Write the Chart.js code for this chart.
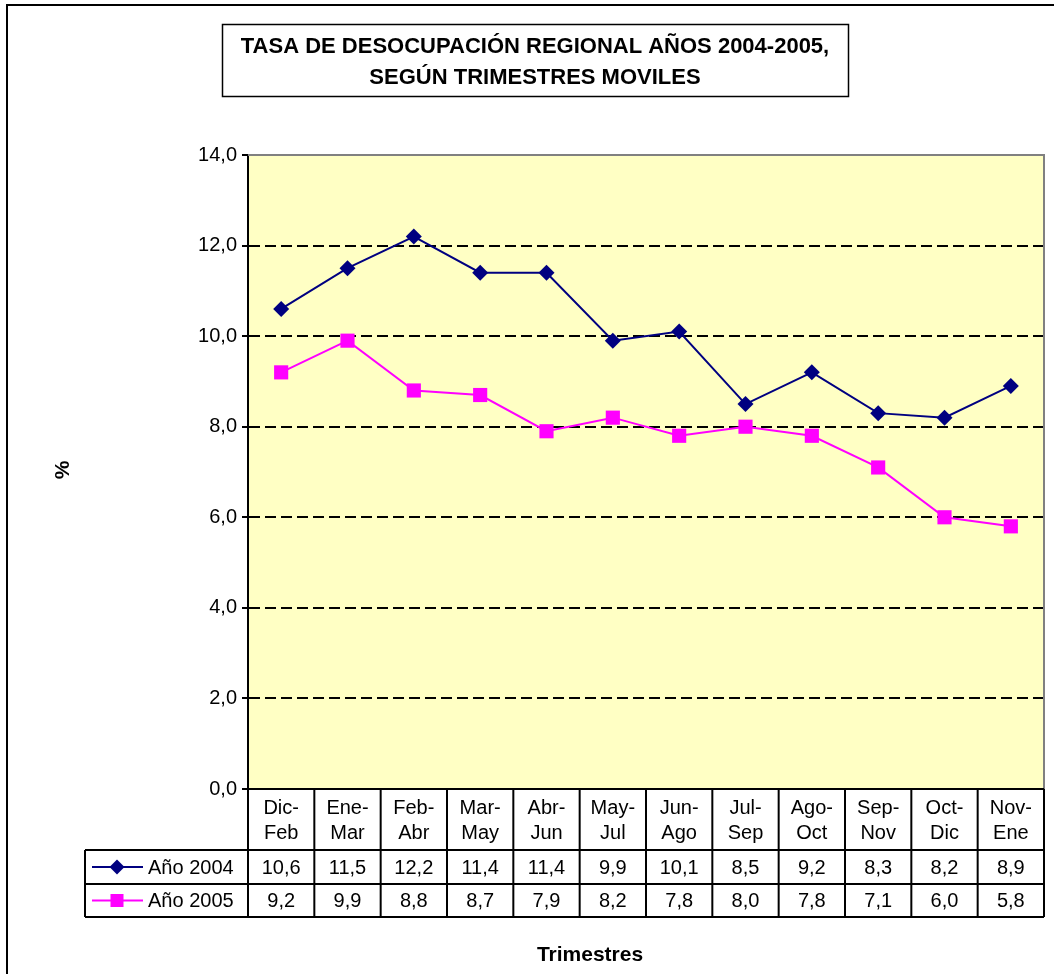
<!DOCTYPE html>
<html>
<head>
<meta charset="utf-8">
<script src="https://cdn.jsdelivr.net/npm/chart.js@4/dist/chart.umd.min.js"></script>
<style>
  html, body { margin: 0; padding: 0; background: #fff; }
  #wrap { width: 1054px; height: 974px; }
</style>
</head>
<body>
<div id="wrap"><canvas id="c" width="1054" height="974"></canvas></div>
<script>
// data
const trimestres = [['Dic-','Feb'],['Ene-','Mar'],['Feb-','Abr'],['Mar-','May'],['Abr-','Jun'],['May-','Jul'],
                    ['Jun-','Ago'],['Jul-','Sep'],['Ago-','Oct'],['Sep-','Nov'],['Oct-','Dic'],['Nov-','Ene']];
const anio2004 = [10.6, 11.5, 12.2, 11.4, 11.4, 9.9, 10.1, 8.5, 9.2, 8.3, 8.2, 8.9];
const anio2005 = [9.2, 9.9, 8.8, 8.7, 7.9, 8.2, 7.8, 8.0, 7.8, 7.1, 6.0, 5.8];
const serieNames = ['Año 2004', 'Año 2005'];
const yTicks = [0, 2, 4, 6, 8, 10, 12, 14];
const titleLines = ['TASA DE DESOCUPACIÓN REGIONAL AÑOS 2004-2005,', 'SEGÚN TRIMESTRES MOVILES'];
const yTitle = '%';
const xTitle = 'Trimestres';

const NAVY = '#000080', MAGENTA = '#FF00FF';
const FONT = 'Arial, "Liberation Sans", sans-serif';
const fmt = v => v.toFixed(1).replace('.', ',');

function diamond(ctx, x, y, r, col){
  ctx.beginPath(); ctx.moveTo(x, y-r); ctx.lineTo(x+r, y); ctx.lineTo(x, y+r); ctx.lineTo(x-r, y); ctx.closePath();
  ctx.fillStyle = col; ctx.fill();
}
function square(ctx, x, y, h, col){
  ctx.fillStyle = col; ctx.fillRect(x-h, y-h, 2*h, 2*h);
}

const tablePlugin = {
  id: 'excelLook',
  beforeDraw(chart){
    const {ctx, chartArea: a} = chart;
    ctx.save();
    ctx.fillStyle = '#fff'; ctx.fillRect(0, 0, chart.width, chart.height);
    // outer frame (runs off the right/bottom edges like the source)
    ctx.strokeStyle = '#000'; ctx.lineWidth = 2;
    ctx.strokeRect(7, 5, 1200, 1200);
    // plot background
    ctx.fillStyle = '#FFFFC4';
    ctx.fillRect(a.left, a.top, a.right - a.left, a.bottom - a.top);
    // title box
    ctx.lineWidth = 1.5;
    ctx.strokeRect(222.5, 24.5, 626, 72);
    ctx.fillStyle = '#000'; ctx.textAlign = 'center'; ctx.textBaseline = 'middle';
    ctx.font = 'bold 22px ' + FONT;
    ctx.fillText(titleLines[0], 535, 47);
    ctx.fillText(titleLines[1], 535, 78);
    ctx.restore();
  },
  afterDraw(chart){
    const {ctx, chartArea: a} = chart;
    const xs = chart.scales.x;
    ctx.save();
    // gray plot frame top / right
    ctx.strokeStyle = '#808080'; ctx.lineWidth = 2;
    ctx.beginPath(); ctx.moveTo(a.left, a.top); ctx.lineTo(a.right, a.top); ctx.lineTo(a.right, a.bottom); ctx.stroke();

    // data table
    const top = a.bottom, r0 = 850, r1 = 884, r2 = 917, legL = 85;
    const n = trimestres.length;
    const bounds = [a.left];
    for (let i = 1; i < n; i++) bounds.push((xs.getPixelForValue(i - 1) + xs.getPixelForValue(i)) / 2);
    bounds.push(a.right);
    ctx.strokeStyle = '#000'; ctx.lineWidth = 2;
    ctx.beginPath();
    bounds.forEach(b => { ctx.moveTo(b, top); ctx.lineTo(b, r2); });
    ctx.moveTo(a.left, top); ctx.lineTo(a.right, top);
    [r0, r1, r2].forEach(y => { ctx.moveTo(legL, y); ctx.lineTo(a.right, y); });
    ctx.moveTo(legL, r0); ctx.lineTo(legL, r2);
    ctx.stroke();

    ctx.fillStyle = '#000'; ctx.textAlign = 'center'; ctx.textBaseline = 'middle';
    ctx.font = '20px ' + FONT;
    trimestres.forEach((c, i) => {
      const x = xs.getPixelForValue(i);
      ctx.fillText(c[0], x, 808);
      ctx.fillText(c[1], x, 833);
      ctx.fillText(fmt(anio2004[i]), x, (r0 + r1) / 2 + 1);
      ctx.fillText(fmt(anio2005[i]), x, (r1 + r2) / 2 + 1);
    });

    // legend keys
    const rows = [(r0 + r1) / 2, (r1 + r2) / 2];
    const cols = [NAVY, MAGENTA];
    rows.forEach((y, k) => {
      ctx.strokeStyle = cols[k]; ctx.lineWidth = 2;
      ctx.beginPath(); ctx.moveTo(92, y); ctx.lineTo(143, y); ctx.stroke();
      if (k === 0) diamond(ctx, 117, y, 7.5, NAVY); else square(ctx, 117, y, 6.5, MAGENTA);
      ctx.fillStyle = '#000'; ctx.textAlign = 'left';
      ctx.fillText(serieNames[k], 148, y + 1);
    });

    // axis titles
    ctx.font = 'bold 21px ' + FONT; ctx.textAlign = 'center';
    ctx.fillText(xTitle, 590, 955);
    ctx.translate(63, 470); ctx.rotate(-Math.PI / 2);
    ctx.fillText(yTitle, 0, 0);
    ctx.restore();
  }
};

new Chart(document.getElementById('c'), {
  type: 'line',
  data: {
    labels: trimestres,
    datasets: [
      { label: serieNames[0], data: anio2004, borderColor: NAVY, backgroundColor: NAVY, borderWidth: 2,
        pointStyle: 'rectRot', pointRadius: 8, pointBorderWidth: 0, tension: 0 },
      { label: serieNames[1], data: anio2005, borderColor: MAGENTA, backgroundColor: MAGENTA, borderWidth: 2,
        pointStyle: 'rect', pointRadius: 10, pointBorderWidth: 0, tension: 0 }
    ]
  },
  options: {
    responsive: false,
    animation: false,
    layout: { padding: { top: 155, right: 8, left: 0, bottom: 0 } },
    plugins: { legend: { display: false }, title: { display: false }, tooltip: { enabled: false } },
    scales: {
      x: {
        offset: true,
        ticks: { display: false },
        grid: { display: false },
        border: { display: false },
        afterFit: s => { s.height = 974 - 789; }
      },
      y: {
        min: 0, max: 14,
        afterBuildTicks: s => { s.ticks = yTicks.map(v => ({ value: v })); },
        ticks: { callback: v => fmt(v), color: '#000', font: { size: 20, family: FONT }, padding: 5 },
        grid: { color: c => c.tick && c.tick.value === 14 ? '#808080' : '#000', lineWidth: 2,
                tickColor: '#000', tickLength: 6, tickBorderDash: [] },
        border: { color: '#000', width: 2, dash: [11, 5] },
        afterFit: s => { s.width = 248; }
      }
    }
  },
  plugins: [tablePlugin]
});
</script>
</body>
</html>
